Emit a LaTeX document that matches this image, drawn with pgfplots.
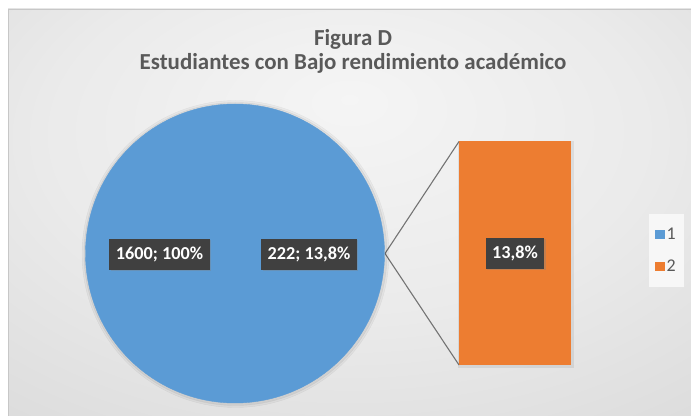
\documentclass[border=0pt]{standalone}
\usepackage{fontspec}
\setmainfont{Carlito}
\usepackage{pgfplots}
\pgfplotsset{compat=1.18}
\usetikzlibrary{shadows}
\definecolor{pieblue}{HTML}{5B9BD5}
\definecolor{barorange}{HTML}{ED7D31}
\definecolor{lblbg}{HTML}{404040}
\definecolor{titlegray}{HTML}{595959}
\pgfdeclareradialshading{bgshade}{\pgfpoint{0bp}{14bp}}{color(0bp)=(black!4); color(22bp)=(black!8); color(45bp)=(black!15); color(70bp)=(black!21)}
\tikzset{lbl/.style={fill=lblbg, text=white, font=\bfseries\fontsize{18.3}{21}\selectfont, minimum height=31bp, inner xsep=6.5bp, drop shadow={opacity=0.35, shadow xshift=1.5bp, shadow yshift=-1.5bp}}}
\begin{document}
\begin{tikzpicture}
\begin{axis}[
  set layers,
  width=691bp, height=416bp, scale only axis,
  xmin=0, xmax=691, ymin=0, ymax=416,
  hide axis, clip=false,
  legend style={at={(axis cs:649,202)}, anchor=north west, fill=black!3, draw=none,
    font=\fontsize{18}{21}\selectfont,
    nodes={font=\fontsize{18}{21}\selectfont, text=titlegray, inner sep=2bp},
    row sep=15bp, inner xsep=6bp, inner ysep=12bp},
  legend image code/.code={\fill[#1, draw=none] (0bp,-4.5bp) rectangle (9.5bp,5bp);},
]
\shade[shading=bgshade] (axis cs:8,0) rectangle (axis cs:691,407);
\draw[black!22] (axis cs:8,0) -- (axis cs:8,407) -- (axis cs:691,407);
% soft shadows
\addplot[only marks, mark=*, mark size=153.5bp, mark options={fill=black, draw=none, opacity=0.04}, forget plot] coordinates {(235.5,162)};
\addplot[only marks, mark=*, mark size=151.5bp, mark options={fill=black, draw=none, opacity=0.05}, forget plot] coordinates {(235.5,162)};
\addplot[fill=black, draw=none, opacity=0.07, forget plot] coordinates {(458,48) (458,275) (574,275) (574,48)} -- cycle;
% pie: single slice, 1600 = 100%
\addplot[only marks, mark=*, mark size=149.5bp, mark options={fill=pieblue, draw=pieblue}, forget plot] coordinates {(235,162.5)};
% connector lines
\addplot[black!55, line width=1.1bp, forget plot] coordinates {(459,274.5) (385,162.5) (459,51)};
\addplot[white!70!pieblue, line width=0.8bp, forget plot] coordinates {(358,162.5) (385,162.5)};
% bar of pie: 222 = 13,8%
\addplot[fill=barorange, draw=none, forget plot] coordinates {(459,51) (459,274.5) (571,274.5) (571,51)} -- cycle;
\addlegendimage{fill=pieblue}
\addlegendentry{1}
\addlegendimage{fill=barorange}
\addlegendentry{2}
\begin{pgfonlayer}{axis foreground}
\node[lbl] at (axis cs:159.5,161.5) {1600; 100\%};
\node[lbl] at (axis cs:309,161.5) {222; 13,8\%};
\node[lbl] at (axis cs:515,162.5) {13,8\%};
\node[font=\bfseries\fontsize{23}{27}\selectfont, text=titlegray, anchor=base, inner sep=0pt] at (axis cs:353,370) {Figura D};
\node[font=\bfseries\fontsize{23}{27}\selectfont, text=titlegray, anchor=base, inner sep=0pt] at (axis cs:353,346) {Estudiantes con Bajo rendimiento académico};
\end{pgfonlayer}
\end{axis}
\pgfresetboundingbox
\path[use as bounding box] (0,0) rectangle (691bp,416bp);
\end{tikzpicture}
\end{document}
